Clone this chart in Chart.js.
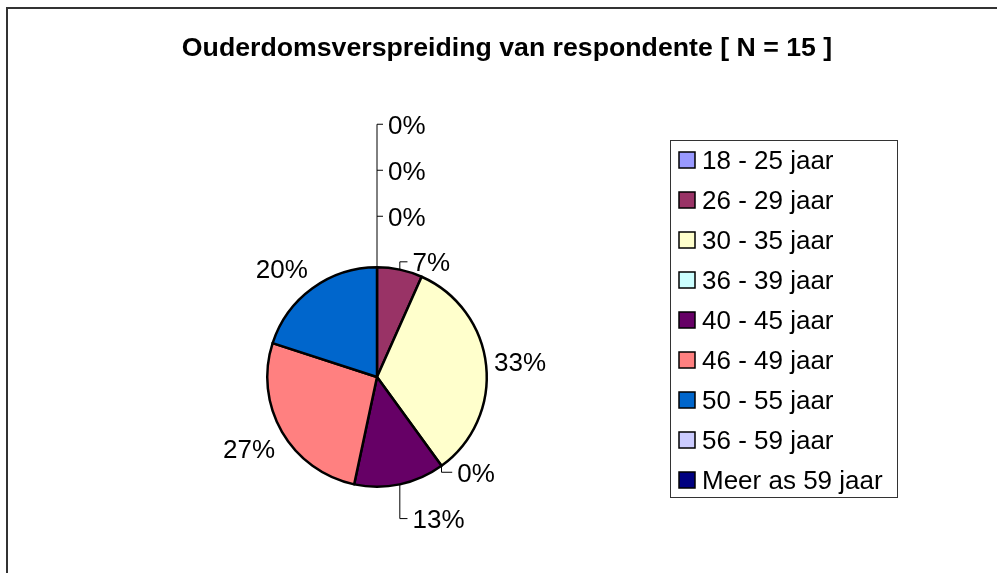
<!DOCTYPE html>
<html>
<head>
<meta charset="utf-8">
<script src="https://cdn.jsdelivr.net/npm/chart.js@4/dist/chart.umd.min.js"></script>
<style>
  html, body { margin: 0; padding: 0; background: #fff; }
  #wrap { position: relative; width: 997px; height: 573px; }
</style>
</head>
<body>
<div id="wrap"><canvas id="pie"></canvas></div>
<script>
// Data (N = 15)
const chartTitle = 'Ouderdomsverspreiding van respondente [ N = 15 ]';
const ageGroups = ['18 - 25 jaar', '26 - 29 jaar', '30 - 35 jaar', '36 - 39 jaar', '40 - 45 jaar',
                   '46 - 49 jaar', '50 - 55 jaar', '56 - 59 jaar', 'Meer as 59 jaar'];
const respondents = [0, 1, 5, 0, 2, 4, 3, 0, 0];
const sliceColours = ['#9999FF', '#993366', '#FFFFCC', '#CCFFFF', '#660066',
                      '#FF8080', '#0066CC', '#CCCCFF', '#000080'];

const FONT = '"Liberation Sans", Arial, sans-serif';
const LABEL_SIZE = 26;

// frame, title and legend, drawn the Excel way
const excelFrame = {
    id: 'excelFrame',
    beforeDraw(chart) {
        const ctx = chart.ctx;
        ctx.save();
        ctx.fillStyle = '#fff';
        ctx.fillRect(0, 0, chart.width, chart.height);
        ctx.strokeStyle = '#333';
        ctx.lineWidth = 2;
        ctx.beginPath();
        ctx.moveTo(7, chart.height);
        ctx.lineTo(7, 8);
        ctx.lineTo(chart.width, 8);
        ctx.stroke();
        ctx.restore();
    },
    afterDraw(chart) {
        const ctx = chart.ctx;
        ctx.save();
        ctx.fillStyle = '#000';
        ctx.font = 'bold 26.7px ' + FONT;
        ctx.textAlign = 'center';
        ctx.textBaseline = 'alphabetic';
        ctx.fillText(chartTitle, 507, 56);

        // legend
        const lx = 670, ly = 140, lw = 227, rowH = 40;
        const lh = rowH * ageGroups.length - 3;
        ctx.strokeStyle = '#333';
        ctx.lineWidth = 1;
        ctx.strokeRect(lx + 0.5, ly + 0.5, lw, lh);
        ctx.font = LABEL_SIZE + 'px ' + FONT;
        ctx.textAlign = 'left';
        ageGroups.forEach((g, i) => {
            const cy = ly + 20 + i * rowH;
            ctx.fillStyle = sliceColours[i];
            ctx.fillRect(679, cy - 8, 16, 16);
            ctx.strokeStyle = '#000';
            ctx.lineWidth = 1.5;
            ctx.strokeRect(679, cy - 8, 16, 16);
            ctx.fillStyle = '#000';
            ctx.fillText(g, 702, cy + 9);
        });
        ctx.restore();
    }
};

// percentage labels with Excel-like leader lines
const pctLabels = {
    id: 'pctLabels',
    afterDatasetsDraw(chart) {
        const ctx = chart.ctx;
        const meta = chart.getDatasetMeta(0);
        const total = respondents.reduce((a, b) => a + b, 0);
        ctx.save();
        ctx.font = LABEL_SIZE + 'px ' + FONT;
        ctx.fillStyle = '#000';
        ctx.strokeStyle = '#000';
        ctx.lineWidth = 1;
        ctx.textBaseline = 'alphabetic';
        const half = LABEL_SIZE * 0.358;
        const clamp = v => Math.max(-1, Math.min(1, v));
        const placed = [];
        const stack = [];
        let cx = 0, cy = 0, r = 0;
        const hits = (b) => placed.some(p => b.x < p.x + p.w && p.x < b.x + b.w && b.y < p.y + p.h && p.y < b.y + b.h);

        meta.data.forEach((arc, i) => {
            const a = arc.getProps(['x', 'y', 'startAngle', 'endAngle', 'outerRadius'], true);
            cx = a.x; cy = a.y; r = a.outerRadius;
            const share = respondents[i] / total;
            const text = Math.round(share * 100) + '%';
            const mid = (a.startAngle + a.endAngle) / 2;
            const dx = Math.cos(mid), dy = Math.sin(mid);
            const w = ctx.measureText(text).width, h = LABEL_SIZE;
            if (respondents[i] === 0 && Math.abs(dx) < 1e-6 && dy < 0) { stack.push(text); return; }
            const ex = cx + r * dx, ey = cy + r * dy;
            if (share >= 0.15) {
                // box corner nearest to the pie sits just outside the rim
                const tx = ex + 8 * dx + clamp(2 * dx) * w / 2;
                const ty = ey + 8 * dy + clamp(2 * dy) * h / 2;
                ctx.textAlign = 'center';
                ctx.fillText(text, tx, ty + half);
                placed.push({x: tx - w / 2, y: ty - h / 2, w, h});
            } else {
                const left = ex + 8 * dx + 11;
                let e = 8, ty, box;
                for (let k = 0; k < 6; k++) {
                    ty = ey + e * dy;
                    box = {x: left, y: ty - h / 2, w, h};
                    if (!hits(box)) break;
                    e += 27;
                }
                placed.push(box);
                ctx.beginPath();
                ctx.moveTo(ex, ey);
                ctx.lineTo(ex, ty);
                ctx.lineTo(left - 5, ty);
                ctx.stroke();
                ctx.textAlign = 'left';
                ctx.fillText(text, left, ty + half);
            }
        });

        // zero slices sitting on the top edge: stacked upwards
        if (stack.length) {
            const topY = cy - r;
            const ys = stack.map((_, k) => topY - 51 - k * 46);
            ctx.beginPath();
            ctx.moveTo(cx, topY);
            ctx.lineTo(cx, ys[ys.length - 1]);
            ys.forEach(y => { ctx.moveTo(cx, y); ctx.lineTo(cx + 6, y); });
            ctx.stroke();
            ctx.textAlign = 'left';
            stack.forEach((t, k) => ctx.fillText(t, cx + 11, ys[k] + half));
        }
        ctx.restore();
    }
};

new Chart(document.getElementById('pie'), {
    type: 'pie',
    data: {
        labels: ageGroups,
        datasets: [{
            data: respondents,
            backgroundColor: sliceColours,
            borderColor: '#000',
            borderWidth: 2.5,
            borderJoinStyle: 'round',
            hoverOffset: 0,
            offset: 0
        }]
    },
    options: {
        responsive: true, maintainAspectRatio: false, animation: false,
        layout: { padding: { left: 266, right: 509, top: 266, bottom: 85 } },
        plugins: { legend: { display: false }, title: { display: false }, tooltip: { enabled: false } },
        events: []
    },
    plugins: [excelFrame, pctLabels]
});
</script>
</body>
</html>
